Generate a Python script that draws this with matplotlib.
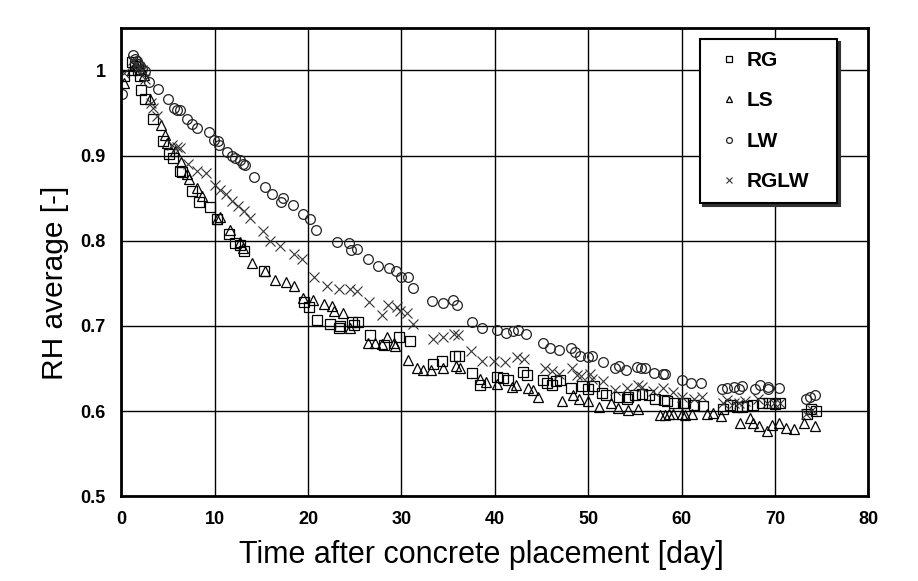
import numpy as np
import matplotlib
matplotlib.use("Agg")
from matplotlib import pyplot as plt

plt.rcParams['font.family'] = ['Liberation Sans', 'DejaVu Sans']

# RG (squares)
rg_t = [0.3, 1.2, 1.5, 1.8, 2.0, 2.14, 2.5, 3.4, 4.5, 5.07, 5.5, 6.3, 6.5, 7.57, 8.28, 9.5,
        10.25, 11.5, 12.2, 12.7, 13.1, 15.3, 19.6, 20.06, 20.96, 22.4, 23.3, 23.45, 24.7,
        24.9, 25.4, 26.6, 28.1, 29.7, 30.95, 33.4, 34.4, 35.7, 36.2, 37.6, 38.4, 40.2, 40.9,
        41.4, 43.0, 43.5, 45.2, 45.6, 46.1, 46.5, 47.0, 48.2, 49.3, 50.0, 50.6, 51.5, 51.9,
        53.3, 54.2, 54.3, 55.05, 55.8, 56.5, 57.1, 58.1, 58.4, 59.2, 60.2, 60.4, 61.3, 62.3,
        64.4, 65.2, 65.9, 66.5, 67.0, 67.6, 68.6, 69.4, 70.0, 70.5, 73.4, 73.8, 74.4]
rg_rh = [0.994, 1.010, 1.005, 1.000, 0.993, 0.977, 0.967, 0.943, 0.917, 0.902, 0.897, 0.882,
         0.881, 0.858, 0.845, 0.840, 0.825, 0.808, 0.797, 0.795, 0.788, 0.765, 0.728, 0.722,
         0.707, 0.702, 0.698, 0.700, 0.705, 0.701, 0.704, 0.689, 0.678, 0.687, 0.682, 0.655,
         0.659, 0.665, 0.665, 0.645, 0.631, 0.640, 0.639, 0.637, 0.646, 0.642, 0.637, 0.633,
         0.630, 0.635, 0.636, 0.627, 0.629, 0.626, 0.629, 0.621, 0.619, 0.616, 0.614, 0.616,
         0.619, 0.620, 0.619, 0.614, 0.613, 0.612, 0.609, 0.609, 0.610, 0.607, 0.606, 0.602,
         0.607, 0.605, 0.605, 0.606, 0.607, 0.609, 0.609, 0.608, 0.610, 0.597, 0.602, 0.600]

# LS (triangles)
ls_t = [0.25, 1.2, 1.6, 2.0, 2.4, 3.1, 4.25, 4.7, 4.9, 5.8, 6.4, 7.0, 7.3, 8.1, 8.6, 10.25,
        10.6, 11.7, 12.7, 13.0, 14.0, 15.4, 16.5, 17.6, 18.45, 19.5, 20.5, 21.7, 22.6, 22.8,
        23.8, 24.5, 26.4, 27.2, 27.9, 28.5, 29.2, 29.3, 30.7, 31.7, 32.3, 33.2, 34.5, 35.8,
        36.3, 38.4, 39.1, 40.2, 41.8, 42.3, 43.6, 44.1, 44.6, 47.2, 48.4, 49.0, 50.0, 51.2,
        52.4, 53.15, 54.25, 55.3, 57.7, 58.2, 58.7, 59.1, 60.0, 60.4, 61.1, 62.7, 63.4, 64.2,
        66.3, 67.3, 67.6, 68.3, 69.1, 69.7, 70.4, 71.2, 72.0, 73.1, 74.25]
ls_rh = [0.985, 1.000, 1.006, 1.002, 0.995, 0.966, 0.936, 0.924, 0.915, 0.905, 0.893, 0.878,
         0.872, 0.862, 0.852, 0.825, 0.828, 0.813, 0.798, 0.792, 0.774, 0.764, 0.754, 0.752,
         0.747, 0.733, 0.730, 0.726, 0.723, 0.718, 0.715, 0.697, 0.680, 0.680, 0.679, 0.687,
         0.680, 0.676, 0.660, 0.651, 0.648, 0.648, 0.650, 0.653, 0.650, 0.638, 0.634, 0.632,
         0.628, 0.630, 0.627, 0.625, 0.617, 0.612, 0.619, 0.614, 0.612, 0.605, 0.610, 0.604,
         0.601, 0.602, 0.595, 0.595, 0.597, 0.596, 0.597, 0.595, 0.596, 0.596, 0.598, 0.594,
         0.586, 0.592, 0.586, 0.582, 0.577, 0.584, 0.586, 0.580, 0.579, 0.586, 0.583]

# LW (circles)
lw_t = [0.07, 1.25, 1.45, 1.65, 1.85, 2.05, 2.25, 2.5, 3.03, 3.9, 5.0, 5.7, 6.0, 6.3, 7.0,
        7.6, 8.1, 9.35, 9.96, 10.4, 10.5, 11.3, 11.86, 12.2, 12.7, 13.0, 13.3, 14.2, 15.35,
        16.1, 17.3, 17.1, 18.4, 19.5, 20.2, 20.9, 23.1, 24.4, 24.6, 25.2, 26.4, 27.5, 28.7,
        29.4, 29.95, 30.7, 31.2, 33.3, 34.5, 35.5, 36.0, 37.6, 38.6, 40.2, 41.2, 41.9, 42.5,
        43.3, 45.2, 45.9, 46.9, 48.2, 48.6, 49.1, 50.0, 50.4, 51.6, 52.9, 53.3, 54.0, 55.2,
        55.6, 56.1, 57.0, 58.0, 58.2, 60.0, 61.0, 62.1, 64.3, 64.9, 65.6, 66.1, 66.5, 67.9,
        68.4, 69.2, 69.3, 70.4, 73.3, 73.7, 74.3]
lw_rh = [0.972, 1.018, 1.014, 1.011, 1.008, 1.005, 1.002, 0.999, 0.987, 0.978, 0.966, 0.956,
         0.954, 0.953, 0.943, 0.937, 0.932, 0.928, 0.918, 0.917, 0.912, 0.904, 0.899, 0.897,
         0.895, 0.890, 0.889, 0.875, 0.863, 0.855, 0.850, 0.845, 0.842, 0.831, 0.826, 0.813,
         0.798, 0.797, 0.789, 0.790, 0.778, 0.770, 0.768, 0.765, 0.757, 0.757, 0.745, 0.729,
         0.727, 0.730, 0.725, 0.705, 0.697, 0.695, 0.692, 0.694, 0.695, 0.690, 0.680, 0.674,
         0.672, 0.674, 0.669, 0.665, 0.664, 0.665, 0.658, 0.650, 0.653, 0.648, 0.652, 0.651,
         0.651, 0.645, 0.644, 0.643, 0.637, 0.633, 0.633, 0.626, 0.627, 0.628, 0.626, 0.629,
         0.626, 0.630, 0.628, 0.626, 0.627, 0.614, 0.617, 0.619]

# RGLW (crosses)
rglw_t = [0.32, 1.3, 1.6, 1.9, 2.2, 2.5, 3.2, 3.46, 3.8, 5.4, 5.96, 6.3, 7.2, 8.1, 9.1,
          10.07, 10.6, 11.24, 11.86, 12.56, 13.1, 13.8, 15.2, 15.96, 17.0, 18.45, 19.35,
          20.6, 22.0, 23.3, 24.5, 25.2, 26.5, 27.9, 28.6, 29.5, 29.9, 30.6, 31.2, 33.4, 34.5,
          35.6, 36.1, 37.5, 38.6, 39.9, 41.1, 42.4, 43.1, 45.4, 46.1, 46.9, 48.3, 48.8, 49.2,
          50.2, 50.4, 51.6, 52.9, 54.1, 55.3, 55.8, 56.9, 58.0, 59.1, 60.0, 61.3, 62.2, 64.4,
          64.9, 65.6, 66.1, 66.8, 68.2, 69.1, 69.9, 70.5, 73.3, 74.0]
rglw_rh = [0.997, 1.012, 1.008, 1.004, 1.000, 0.990, 0.962, 0.956, 0.946, 0.913, 0.910,
           0.909, 0.890, 0.882, 0.879, 0.866, 0.860, 0.855, 0.847, 0.841, 0.835, 0.827, 0.811,
           0.800, 0.794, 0.785, 0.778, 0.757, 0.747, 0.743, 0.743, 0.741, 0.728, 0.713, 0.724,
           0.722, 0.718, 0.715, 0.702, 0.685, 0.687, 0.691, 0.689, 0.670, 0.659, 0.659, 0.657,
           0.663, 0.661, 0.651, 0.647, 0.644, 0.650, 0.642, 0.641, 0.644, 0.638, 0.635, 0.625,
           0.627, 0.631, 0.628, 0.624, 0.627, 0.622, 0.616, 0.614, 0.616, 0.609, 0.613, 0.610,
           0.610, 0.612, 0.614, 0.610, 0.609, 0.610, 0.597, 0.601]

fig = plt.figure(figsize=(9.18, 5.81), dpi=100)
ax = fig.add_axes([0.132, 0.146, 0.814, 0.806])

mk = dict(linestyle='none', markerfacecolor='none', markersize=7, markeredgewidth=0.9)
ax.plot(rg_t, rg_rh, marker='s', color='black', label='RG', **mk)
ax.plot(ls_t, ls_rh, marker='^', color='black', label='LS', **mk)
ax.plot(lw_t, lw_rh, marker='o', color='#222222', label='LW', **mk)
ax.plot(rglw_t, rglw_rh, marker='x', color='#333333', label='RGLW', linestyle='none',
        markersize=7, markeredgewidth=0.8)

ax.set_xlim(0, 80)
ax.set_ylim(0.5, 1.05)
ax.set_xticks(np.arange(0, 81, 10))
ax.set_yticks([0.5, 0.6, 0.7, 0.8, 0.9, 1.0])
ax.set_yticklabels(['0.5', '0.6', '0.7', '0.8', '0.9', '1'])
ax.grid(True, color='black', linewidth=1.0)
ax.set_axisbelow(True)
ax.tick_params(length=0, labelsize=13, pad=11)
for lab in ax.get_xticklabels() + ax.get_yticklabels():
    lab.set_fontweight('bold')
for s in ax.spines.values():
    s.set_linewidth(2)

ax.set_xlabel("Time after concrete placement [day]", fontsize=22)
ax.set_ylabel("RH average [-]", fontsize=21.5)
ax.xaxis.set_label_coords(0.482, -0.094)
ax.yaxis.set_label_coords(-0.07, 0.455)

leg = ax.legend(loc='upper left', bbox_to_anchor=(0.775, 0.5, 0.1834, 0.4765), mode='expand',
                borderaxespad=0, frameon=True, fancybox=False,
                shadow={'color': '#333333', 'alpha': 1}, markerscale=0.6,
                handlelength=1.6, handletextpad=0.05, labelspacing=1.03, borderpad=0.58,
                prop={'weight': 'bold', 'size': 15})
leg.get_frame().set_edgecolor('black')
leg.get_frame().set_linewidth(1.5)
leg.get_frame().set_alpha(1)

fig.savefig("out.png", dpi=100)
